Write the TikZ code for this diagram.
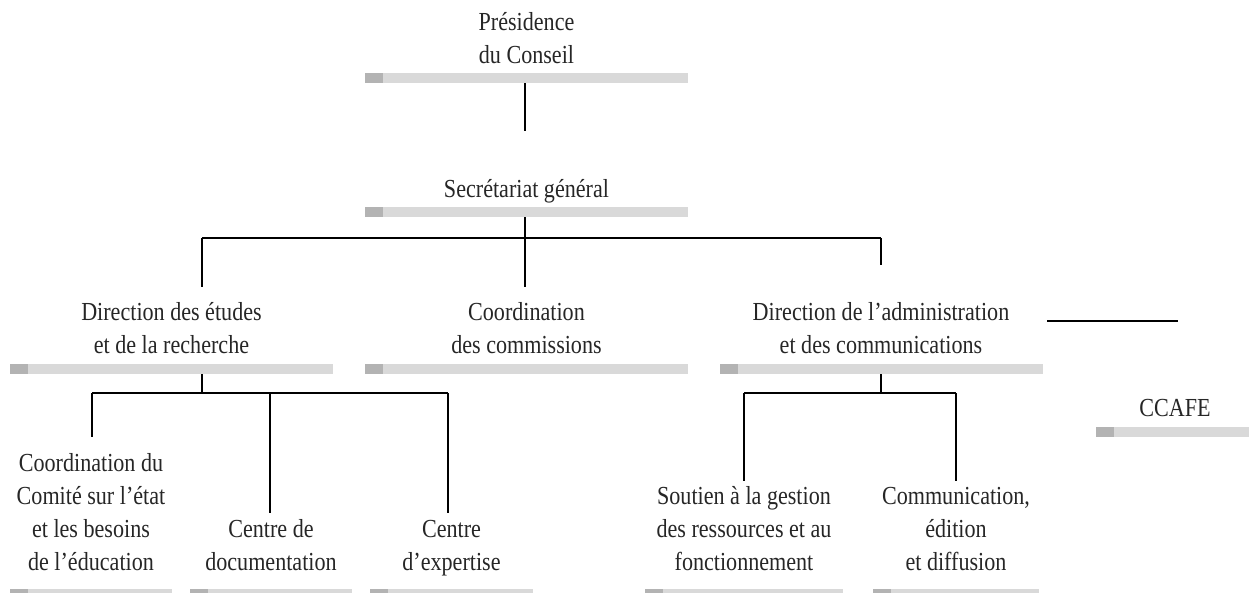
\documentclass[tikz,border=0pt]{standalone}
\usepackage{fontspec}
\setmainfont{Liberation Serif}[FakeStretch=0.85]
\definecolor{barlight}{HTML}{D9D9D9}
\definecolor{bardark}{HTML}{B3B3B3}
\definecolor{txt}{HTML}{262626}
\tikzset{
  orgbar/.style={rectangle, inner sep=0pt, minimum height=10pt, fill=barlight,
    path picture={\fill[bardark] (path picture bounding box.south west) rectangle ([xshift=18pt]path picture bounding box.north west);}},
  lbl/.style={anchor=south, inner sep=0pt, align=center, text=txt,
    font=\fontsize{26}{33}\selectfont, execute at end node=\strut},
  lowlbl/.style={lbl, yshift=8pt},
  conn/.style={draw=black, line width=1.2pt},
}
\begin{document}
\begin{tikzpicture}[x=1pt,y=-1pt]
\useasboundingbox (0,0) rectangle (1249,592);
% bars
\node[orgbar, minimum width=323pt] (pbar) at (526.5,78) {};
\node[orgbar, minimum width=323pt] (sgbar) at (526.5,212) {};
\node[orgbar, minimum width=323pt] (derbar) at (171.5,369) {};
\node[orgbar, minimum width=323pt] (cdcbar) at (526.5,369) {};
\node[orgbar, minimum width=323pt] (dacbar) at (881,369) {};
\node[orgbar, minimum width=323pt] (ccafebar) at (1257.5,432) {};
\node[orgbar, minimum width=162pt] (cdebar) at (91,594) {};
\node[orgbar, minimum width=162pt] (cdocbar) at (271,594) {};
\node[orgbar, minimum width=163pt] (cexpbar) at (451.5,594) {};
\node[orgbar, minimum width=198pt] (sgrbar) at (744,594) {};
\node[orgbar, minimum width=166pt] (cedbar) at (956,594) {};
% labels
\node[lbl] (pres) at ([yshift=-1pt]pbar.north) {Présidence\\du Conseil};
\node[lbl] (sg) at ([yshift=-1pt]sgbar.north) {Secrétariat général};
\node[lbl] (der) at (derbar.north) {Direction des études\\et de la recherche};
\node[lbl] (cdc) at (cdcbar.north) {Coordination\\des commissions};
\node[lbl] (dac) at (dacbar.north) {Direction de l’administration\\et des communications};
\node[lbl] (ccafe) at (1175,427) {CCAFE};
\node[lowlbl] (cde) at (cdebar.north) {Coordination du\\Comité sur l’état\\et les besoins\\de l’éducation};
\node[lowlbl] (cdoc) at (cdocbar.north) {Centre de\\documentation};
\node[lowlbl] (cexp) at (cexpbar.north) {Centre\\d’expertise};
\node[lowlbl] (sgr) at (sgrbar.north) {Soutien à la gestion\\des ressources et au\\fonctionnement};
\node[lowlbl] (ced) at (cedbar.north) {Communication,\\édition\\et diffusion};
% coordinates
\coordinate (p1) at (525,131);
\coordinate (j1) at (525,238);
\coordinate (jl) at (202,238);
\coordinate (jr) at (881,238);
\coordinate (el) at (202,287);
\coordinate (em) at (525,287);
\coordinate (er) at (881,265);
\coordinate (d0) at (202,374);
\coordinate (d1) at (202,393);
\coordinate (dl) at (92,393);
\coordinate (dr) at (448,393);
\coordinate (dm) at (270,393);
\coordinate (e1) at (92,437);
\coordinate (e2) at (270,513);
\coordinate (e3) at (448,513);
\coordinate (a1) at (881,393);
\coordinate (al) at (744,393);
\coordinate (ar) at (956,393);
\coordinate (f1) at (744,481);
\coordinate (f2) at (956,481);
\coordinate (h1) at (1047,321);
\coordinate (h2) at (1178,321);
% connectors
\draw[conn] (525,83) -- (p1);
\draw[conn] (525,217) -- (em);
\draw[conn] (jl) -- (jr);
\draw[conn] (jl) -- (el);
\draw[conn] (jr) -- (er);
\draw[conn] (d0) -- (d1);
\draw[conn] (dl) -- (dr);
\draw[conn] (dl) -- (e1);
\draw[conn] (dm) -- (e2);
\draw[conn] (dr) -- (e3);
\draw[conn] (881,374) -- (a1);
\draw[conn] (al) -- (ar);
\draw[conn] (al) -- (f1);
\draw[conn] (ar) -- (f2);
\draw[conn] (h1) -- (h2);
\end{tikzpicture}
\end{document}
